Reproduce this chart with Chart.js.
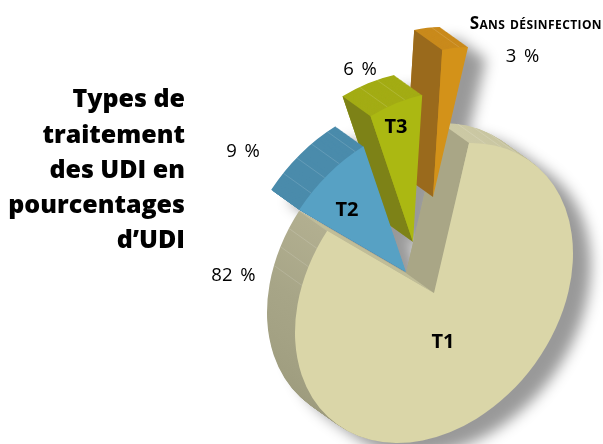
<!DOCTYPE html>
<html>
<head>
<meta charset="utf-8">
<script src="https://cdn.jsdelivr.net/npm/chart.js@4"></script>
<style>
  html, body { margin: 0; padding: 0; background: #fff; }
  canvas { display: block; }
</style>
</head>
<body>
<canvas id="pie" width="603" height="444"></canvas>
<script>
// data
const categories = ["T1", "T2", "T3", "Sans désinfection"];
const values = [82, 9, 6, 3];
const titleLines = ["Types de", "traitement", "des UDI en", "pourcentages", "d’UDI"];

// colours per slice
const topColors = ["#dad6a8", "#57a1c4", "#abb812", "#d39219"];
const rimColors = [null, "#4a8bab", "#a3ac14", "#c98a1c"];
const wallColors = ["#a9a686", "#4a8bab", "#7d8217", "#9a6a1c"];

// where things go on the page
const center = { x: 434, y: 293 };
const disc = { xx: 139, yx: -39.6, yy: 144.7 }; // tilt of the disc
const depth = { x: -28, y: -20 };
const explode = [[0, 0], [-28, -21], [-21, -51], [-1, -96]];
const drawOrder = [0, 3, 2, 1];
const tickStep = 7.2;

const titleY = [106.5, 142.5, 178, 213, 248];
const sliceLabelPos = [[443, 342], [347, 210], [396, 127]];
const valueLabelPos = [[233.5, 281], [243, 157], [360, 75], [522.5, 62]];

function discPoint(arc, angle, radius, shift) {
  const ux = Math.cos(angle) * radius;
  const uy = Math.sin(angle) * radius;
  return {
    x: center.x + shift[0] + disc.xx * ux,
    y: center.y + shift[1] + disc.yx * ux + disc.yy * uy,
  };
}

// moves the circle chart.js laid out onto the tilted disc
function setDisc(ctx, arc, sx, sy) {
  const r = arc.outerRadius;
  const a = disc.xx / r, b = disc.yx / r, d = disc.yy / r;
  ctx.setTransform(a, b, 0, d, center.x + sx - a * arc.x, center.y + sy - b * arc.x - d * arc.y);
}

function drawArc(ctx, arc, fill, sx, sy) {
  const opts = arc.options;
  arc.options = Object.assign({}, opts, { backgroundColor: fill });
  setDisc(ctx, arc, sx, sy);
  arc.draw(ctx);
  arc.options = opts;
  ctx.setTransform(1, 0, 0, 1, 0, 0);
}

function rimFill(ctx, arc, i) {
  if (rimColors[i]) return rimColors[i];
  const g = ctx.createLinearGradient(0, arc.y - arc.outerRadius, 0, arc.y + arc.outerRadius);
  g.addColorStop(0, "#cdcaa6");
  g.addColorStop(0.1, "#c8c5a0");
  g.addColorStop(0.18, "#b2af90");
  g.addColorStop(0.4, "#a7a587");
  g.addColorStop(1, "#9a987a");
  return g;
}

function wall(ctx, arc, angle, shift, color) {
  const a = discPoint(arc, angle, 0, shift);
  const b = discPoint(arc, angle, 1, shift);
  ctx.fillStyle = color;
  ctx.beginPath();
  ctx.moveTo(a.x, a.y);
  ctx.lineTo(b.x, b.y);
  ctx.lineTo(b.x + depth.x, b.y + depth.y);
  ctx.lineTo(a.x + depth.x, a.y + depth.y);
  ctx.closePath();
  ctx.fill();
}

function rimTicks(ctx, arc, i, shift) {
  const span = (arc.endAngle - arc.startAngle) * 180 / Math.PI;
  ctx.strokeStyle = "rgba(255,255,255,0.2)";
  ctx.lineWidth = 0.7;
  for (let deg = tickStep; deg < span; deg += tickStep) {
    // the big slice only shows them near both ends
    if (i === 0 && deg > 22 && deg < span - 24) continue;
    const p = discPoint(arc, arc.startAngle + deg * Math.PI / 180, 1, shift);
    ctx.beginPath();
    ctx.moveTo(p.x, p.y);
    ctx.lineTo(p.x + depth.x, p.y + depth.y);
    ctx.stroke();
  }
}

function drawSolid(ctx, arc, i, fillSide, fillTop) {
  const shift = explode[i];
  const steps = 36;
  for (let k = steps; k >= 1; k--) {
    drawArc(ctx, arc, fillSide || rimFill(ctx, arc, i),
      shift[0] + depth.x * k / steps, shift[1] + depth.y * k / steps);
  }
  if (!fillSide) {
    rimTicks(ctx, arc, i, shift);
    wall(ctx, arc, arc.startAngle, shift, wallColors[i]);
    if (i === 0) wall(ctx, arc, arc.endAngle, shift, "#c0bd98");
  }
  drawArc(ctx, arc, fillTop || topColors[i], shift[0], shift[1]);
}

function drawTexts(ctx) {
  const fam = '"Open Sans", sans-serif';
  ctx.fillStyle = "#000";
  ctx.textBaseline = "alphabetic";

  ctx.textAlign = "right";
  ctx.font = "800 25px " + fam;
  titleLines.forEach((t, i) => ctx.fillText(t, 185, titleY[i]));

  ctx.textAlign = "center";
  ctx.textBaseline = "middle";
  ctx.font = 'bold 20px "Liberation Sans Narrow", ' + fam;
  sliceLabelPos.forEach((p, i) => ctx.fillText(categories[i], p[0], p[1]));

  ctx.textBaseline = "alphabetic";
  ctx.font = "18.5px " + fam;
  ctx.wordSpacing = "3px";
  valueLabelPos.forEach((p, i) => ctx.fillText(values[i] + " %", p[0], p[1]));
  ctx.wordSpacing = "0px";

  ctx.textAlign = "right";
  ctx.font = "small-caps bold 17px " + fam;
  ctx.letterSpacing = "0.4px";
  ctx.fillText(categories[3], 602, 29);
  ctx.letterSpacing = "0px";
}

const solidPie = {
  id: "solidPie",
  beforeDatasetsDraw(chart) {
    const ctx = chart.ctx;
    const arcs = chart.getDatasetMeta(0).data;

    // soft shadow under the whole silhouette, drawn first so no slice shades another
    const off = document.createElement("canvas");
    off.width = chart.width;
    off.height = chart.height;
    const offCtx = off.getContext("2d");
    arcs.forEach((arc, i) => drawSolid(offCtx, arc, i, "#000", "#000"));
    ctx.save();
    ctx.shadowColor = "rgba(0,0,0,0.4)";
    ctx.shadowBlur = 14;
    ctx.shadowOffsetX = 18 + chart.width;
    ctx.shadowOffsetY = 12;
    ctx.drawImage(off, -chart.width, 0);
    ctx.restore();

    drawOrder.forEach((i) => drawSolid(ctx, arcs[i], i));
    drawTexts(ctx);
    return false;
  },
};

new Chart(document.getElementById("pie"), {
  type: "pie",
  data: {
    labels: categories,
    datasets: [
      {
        data: values,
        backgroundColor: topColors,
        borderWidth: 0,
      },
    ],
  },
  options: {
    responsive: false,
    animation: false,
    rotation: 14.6,
    plugins: {
      legend: { display: false },
      tooltip: { enabled: false },
    },
  },
  plugins: [solidPie],
});
</script>
</body>
</html>
